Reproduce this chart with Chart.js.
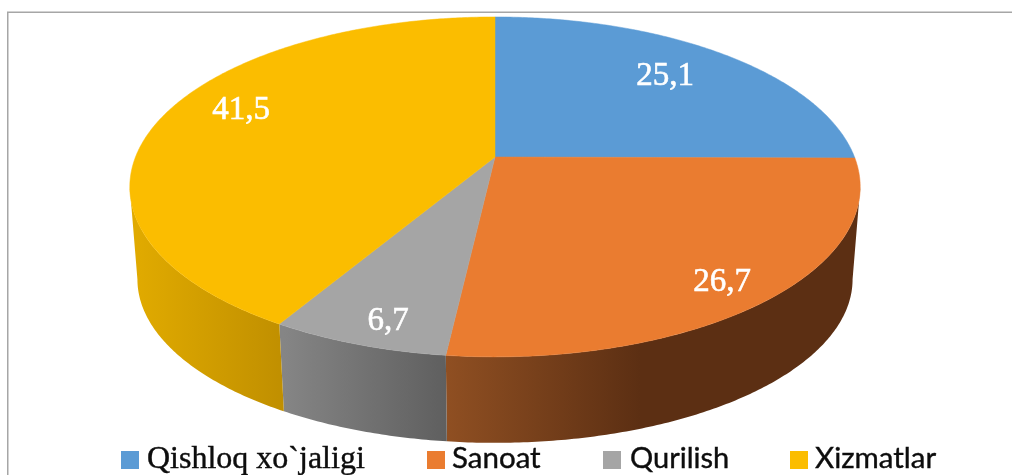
<!DOCTYPE html>
<html>
<head>
<meta charset="utf-8">
<script src="https://cdn.jsdelivr.net/npm/chart.js@4"></script>
<style>
    html, body { margin: 0; padding: 0; background: #ffffff; overflow: hidden; }
    canvas { display: block; }
</style>
</head>
<body>
<canvas id="pieChart" width="1012" height="475"></canvas>
<script>
var categories = ["Qishloq xo`jaligi", "Sanoat", "Qurilish", "Xizmatlar"];
var values = [25.1, 26.7, 6.7, 41.5];
var valueLabels = ["25,1", "26,7", "6,7", "41,5"];
var colors = ["#5b9bd5", "#ea7c30", "#a5a5a5", "#fbbd00"];

// side wall gradient, left to right
var wallColors = [
    ["#3a6a96", "#3a6a96"],
    ["#8f4f22", "#5c2f13"],
    ["#858585", "#5f5f5f"],
    ["#e0aa00", "#c08f00"]
];

// perspective of the pie: k tilts the disc, top and bottom faces have their own size
var k = -0.176;
var topFace = { cx: 495, cy: 157, rx: 359.5, ry: 164.7 };
var bottomFace = { cx: 495, cy: 250.5, rx: 352, ry: 158.5 };

var labelPos = [[665, 76], [722, 282], [388, 321], [241, 110]];
var legendPos = [
    { box: 121, text: 147, font: "32px 'Liberation Serif'" },
    { box: 427, text: 452, font: "29.5px 'Lato'" },
    { box: 603, text: 630, font: "29px 'Lato'" },
    { box: 790, text: 815, font: "29.5px 'Lato'" }
];

function project(face, angle, f) {
    var u = Math.cos(angle) * f;
    var v = Math.sin(angle) * f;
    var d = 1 + k * v;
    return { x: face.cx + face.rx * u / d, y: face.cy + face.ry * v / d };
}

function tracePts(ctx, face, a0, a1) {
    var n = Math.max(2, Math.ceil(Math.abs(a1 - a0) / 0.01));
    for (var i = 0; i <= n; i++) {
        var p = project(face, a0 + (a1 - a0) * i / n, 1);
        ctx.lineTo(p.x, p.y);
    }
}

var pie3d = {
    id: "pie3d",
    beforeDatasetDraw: function (chart, args) {
        var ctx = chart.ctx;
        var arcs = args.meta.data;
        var i, a0, a1, p;

        // only the front of the wall is seen, between the two widest points of the disc
        var frontStart = Math.asin(-k);
        var frontEnd = Math.PI - frontStart;

        for (i = 0; i < arcs.length; i++) {
            a0 = Math.max(arcs[i].startAngle, frontStart);
            a1 = Math.min(arcs[i].endAngle, frontEnd);
            if (a1 <= a0) continue;
            var x0 = project(bottomFace, a1, 1).x;
            var x1 = project(bottomFace, a0, 1).x;
            if (i == 1) x1 = 640;
            var grad = ctx.createLinearGradient(x0, 0, x1, 0);
            grad.addColorStop(0, wallColors[i][0]);
            grad.addColorStop(1, wallColors[i][1]);
            ctx.beginPath();
            p = project(topFace, a0, 1);
            ctx.moveTo(p.x, p.y);
            tracePts(ctx, topFace, a0, a1);
            tracePts(ctx, bottomFace, a1, a0);
            ctx.closePath();
            ctx.fillStyle = grad;
            ctx.fill();
        }

        // top face
        for (i = 0; i < arcs.length; i++) {
            a0 = arcs[i].startAngle;
            a1 = arcs[i].endAngle;
            ctx.beginPath();
            ctx.moveTo(topFace.cx, topFace.cy);
            tracePts(ctx, topFace, a0, a1);
            ctx.closePath();
            ctx.fillStyle = colors[i];
            ctx.strokeStyle = colors[i];
            ctx.lineWidth = 0.5;
            ctx.fill();
            ctx.stroke();
        }

        // value labels
        ctx.fillStyle = "#ffffff";
        ctx.strokeStyle = "#ffffff";
        ctx.lineWidth = 0.6;
        ctx.font = "33px 'Liberation Serif'";
        ctx.textAlign = "center";
        ctx.textBaseline = "middle";
        for (i = 0; i < arcs.length; i++) {
            ctx.fillText(valueLabels[i], labelPos[i][0], labelPos[i][1]);
            ctx.strokeText(valueLabels[i], labelPos[i][0], labelPos[i][1]);
        }
        return false;
    },
    afterDraw: function (chart) {
        var ctx = chart.ctx;

        // frame, only top and left are inside the crop
        ctx.strokeStyle = "#a6a6a6";
        ctx.lineWidth = 1.5;
        ctx.beginPath();
        ctx.moveTo(7.75, 475);
        ctx.lineTo(7.75, 12.25);
        ctx.lineTo(1012, 12.25);
        ctx.stroke();

        // legend
        ctx.textAlign = "left";
        ctx.textBaseline = "alphabetic";
        for (var i = 0; i < categories.length; i++) {
            ctx.fillStyle = colors[i];
            ctx.fillRect(legendPos[i].box, 451, 18, 18);
            ctx.fillStyle = "#0d0d0d";
            ctx.strokeStyle = "#0d0d0d";
            ctx.lineWidth = 0.4;
            ctx.font = legendPos[i].font;
            ctx.fillText(categories[i], legendPos[i].text, 468);
            ctx.strokeText(categories[i], legendPos[i].text, 468);
        }
    }
};

new Chart(document.getElementById("pieChart"), {
    type: "pie",
    data: {
        labels: categories,
        datasets: [{ data: values, backgroundColor: colors, borderWidth: 0 }]
    },
    options: {
        responsive: false,
        animation: false,
        plugins: {
            legend: { display: false },
            tooltip: { enabled: false }
        }
    },
    plugins: [pie3d]
});
</script>
</body>
</html>
